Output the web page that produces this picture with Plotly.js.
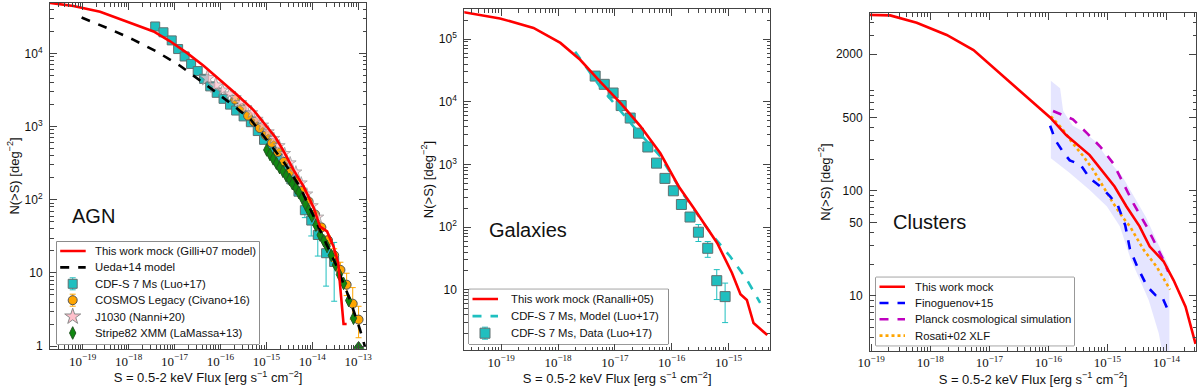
<!DOCTYPE html>
<html>
<head>
<meta charset="utf-8">
<script src="https://cdn.plot.ly/plotly-3.0.1.min.js"></script>
<style>
    html, body { margin: 0; padding: 0; background: #ffffff; }
    #chart { width: 1200px; height: 387px; }
</style>
</head>
<body>
<div id="chart"></div>
<script>
// ---- AGN panel ----
const agnMockFlux  = [1.95e-20, 6.3e-20, 2.4e-19, 6.5e-19, 1.58e-18, 3.5e-18, 7.9e-18, 1.86e-17, 4.3e-17, 9.8e-17, 2.2e-16, 5.2e-16, 1.02e-15, 1.58e-15, 2.3e-15, 3.9e-15, 6.5e-15, 1.07e-14, 1.48e-14, 2.1e-14, 2.9e-14, 3.7e-14, 4.0e-14, 4.5e-14, 4.8e-14, 5.6e-14];
const agnMockCount = [49000, 44700, 37200, 29500, 24500, 20000, 14800, 10200, 6800, 4400, 2800, 1700, 1000, 710, 480, 257, 151, 78, 43, 37, 23, 13.5, 7.2, 3.5, 2.0, 2.0];

const uedaFlux  = [9.5e-20, 2.0e-19, 4.0e-19, 1.26e-18, 4.0e-18, 1.32e-17, 3.3e-17, 8.3e-17, 2.0e-16, 4.5e-16, 1.02e-15, 2.5e-15, 5.4e-15, 1.26e-14, 3.4e-14, 6.6e-14, 1.1e-13, 1.4e-13];
const uedaCount = [31000, 25700, 21400, 15500, 10700, 6800, 4470, 2900, 1900, 1260, 660, 316, 151, 48, 12.3, 4.3, 1.66, 0.98];

const cdfsAgnFlux  = [3.8e-18, 5.75e-18, 8.7e-18, 1.2e-17, 1.66e-17, 2.3e-17, 3.2e-17, 4.4e-17, 6.0e-17, 8.3e-17, 1.17e-16, 1.62e-16, 2.2e-16, 3.2e-16, 4.6e-16, 6.5e-16, 8.9e-16, 1.26e-15, 1.78e-15, 2.5e-15, 3.5e-15, 5.0e-15, 6.9e-15, 9.5e-15, 1.32e-14, 2.0e-14, 3.0e-14];
const cdfsAgnCount = [23400, 19500, 15100, 11500, 9100, 7200, 5750, 4500, 3550, 2900, 2400, 2000, 1660, 1380, 1150, 870, 660, 500, 370, 270, 190, 129, 72, 52, 33, 18.6, 14.1];
const cdfsAgnErrUp   = [0, 0, 0, 0, 0, 0, 0, 0, 0, 0, 0, 0, 0, 0, 0, 0, 0, 0, 0, 0, 0, 12, 15, 10, 10, 9, 12];
const cdfsAgnErrDown = [0, 0, 0, 0, 0, 0, 0, 0, 0, 0, 0, 0, 0, 0, 0, 0, 0, 0, 0, 0, 0, 12, 15, 20, 16, 12, 10];

const cosmosFlux  = [2.1e-16, 2.9e-16, 4.0e-16, 5.4e-16, 7.2e-16, 9.8e-16, 1.32e-15, 1.78e-15, 2.4e-15, 3.2e-15, 4.4e-15, 6.0e-15, 8.3e-15, 1.15e-14, 1.58e-14, 2.2e-14, 3.0e-14, 4.1e-14, 5.6e-14, 7.6e-14, 1.02e-13];
const cosmosCount = [2340, 1780, 1410, 1170, 955, 760, 600, 450, 330, 240, 178, 132, 95, 63, 42, 28, 17.4, 11, 6.9, 3.8, 2.3];
const cosmosErrUp   = [0, 0, 0, 0, 0, 0, 0, 0, 0, 0, 0, 0, 0, 5, 5, 4, 4, 3, 3, 2.5, 1.2];
const cosmosErrDown = [0, 0, 0, 0, 0, 0, 0, 0, 0, 0, 0, 0, 0, 5, 5, 4, 3, 2.5, 2, 1.5, 1.0];

const j1030Flux  = [5.2e-17, 7.9e-17, 1.12e-16, 1.58e-16, 2.1e-16, 2.75e-16, 3.6e-16, 4.8e-16, 6.3e-16, 8.3e-16, 1.1e-15, 1.45e-15, 1.9e-15, 2.5e-15, 3.3e-15, 4.4e-15, 5.75e-15, 7.6e-15, 1.0e-14, 1.32e-14];
const j1030Count = [4600, 3650, 3160, 2800, 2500, 2140, 1820, 1550, 1260, 1050, 850, 690, 550, 430, 320, 240, 170, 120, 83, 58];

const stripeFlux  = [1.02e-15, 1.2e-15, 1.41e-15, 1.66e-15, 1.95e-15, 2.3e-15, 2.7e-15, 3.2e-15, 3.7e-15, 4.4e-15, 5.1e-15, 6.0e-15, 7.1e-15, 8.3e-15, 9.8e-15, 1.2e-14, 1.48e-14, 1.78e-14, 2.1e-14, 2.6e-14, 3.2e-14, 3.9e-14, 4.8e-14, 6.2e-14, 7.9e-14, 1.02e-13];
const stripeCount = [480, 417, 363, 316, 275, 245, 214, 190, 166, 145, 126, 107, 87, 72, 60, 45, 33, 27.5, 23, 17.4, 12.9, 9.5, 7.2, 4.2, 2.4, 1.0];

// ---- Galaxies panel ----
const galMockFlux  = [2.2e-20, 9.5e-20, 3.7e-19, 1.1e-18, 2.45e-18, 5.5e-18, 1.26e-17, 2.8e-17, 6.3e-17, 1.32e-16, 2.45e-16, 3.6e-16, 6.3e-16, 1.15e-15, 1.62e-15, 2.1e-15, 2.75e-15, 4.8e-15];
const galMockCount = [269000, 214000, 151000, 87000, 46800, 20900, 9550, 4100, 1510, 450, 200, 117, 56, 18.6, 8.5, 6.9, 2.95, 1.9];

const galModelFlux  = [2.0e-18, 5.5e-18, 2.1e-17, 6.3e-17, 1.62e-16, 4.8e-16, 1.07e-15, 2.1e-15, 3.6e-15];
const galModelCount = [63000, 17400, 4100, 1350, 330, 81, 34, 14.5, 6.2];

const galDataFlux  = [4.5e-18, 6.5e-18, 9.3e-18, 1.29e-17, 1.86e-17, 2.6e-17, 3.8e-17, 5.4e-17, 7.6e-17, 1.07e-16, 1.48e-16, 2.1e-16, 2.95e-16, 4.3e-16, 6.2e-16, 8.7e-16];
const galDataCount = [25700, 19000, 13800, 8700, 5500, 3160, 1900, 1050, 600, 380, 230, 145, 83, 46, 14, 7.8];
const galDataErrUp   = [0, 0, 0, 0, 0, 0, 0, 0, 0, 0, 0, 0, 27, 13, 7, 5];
const galDataErrDown = [0, 0, 0, 0, 0, 0, 0, 0, 0, 0, 0, 0, 24, 13, 7, 4.8];

// ---- Clusters panel ----
const clMockFlux  = [9.5e-20, 2.1e-19, 5.9e-19, 1.9e-18, 5.4e-18, 1.74e-17, 3.8e-17, 1.07e-16, 2.0e-16, 5.0e-16, 1.32e-15, 2.1e-15, 3.5e-15, 5.2e-15, 8.9e-15, 1.32e-14, 2.1e-14, 3.1e-14];
const clMockCount = [4730, 4680, 3980, 3050, 2190, 1230, 830, 500, 340, 219, 110, 71, 46, 29.5, 21.4, 14.1, 7.9, 3.5];

const finoFlux  = [1.07e-16, 1.32e-16, 1.78e-16, 2.3e-16, 3.5e-16, 5.0e-16, 7.6e-16, 1.1e-15, 1.51e-15, 2.0e-15, 2.4e-15, 3.2e-15, 4.7e-15, 6.5e-15, 8.3e-15, 1.15e-14];
const finoCount = [417, 302, 234, 195, 178, 132, 110, 89, 72, 47, 28, 19, 12.3, 10.2, 10.0, 6.6];

const finoUpperFlux  = [1.1e-16, 1.58e-16, 1.78e-16, 2.6e-16, 4.0e-16, 6.3e-16, 1.12e-15, 1.78e-15, 2.8e-15, 4.5e-15, 7.1e-15, 1.12e-14];
const finoUpperCount = [1120, 950, 575, 417, 363, 295, 186, 138, 89, 56, 32, 19];
const finoLowerFlux  = [1.1e-16, 2.3e-16, 5.0e-16, 9.8e-16, 1.62e-15, 2.5e-15, 3.4e-15, 5.0e-15, 7.4e-15, 8.9e-15, 1.12e-14];
const finoLowerCount = [204, 148, 102, 71, 46, 22, 15, 9.1, 4.4, 2.5, 2.5];

const planckFlux  = [1.2e-16, 1.78e-16, 2.6e-16, 4.5e-16, 7.6e-16, 1.26e-15, 1.86e-15, 2.75e-15, 4.6e-15, 6.8e-15, 8.9e-15, 1.07e-14];
const planckCount = [575, 525, 480, 355, 263, 182, 117, 76, 46, 29.5, 21.9, 17];

const rosatiFlux  = [1.1e-16, 1.78e-16, 2.6e-16, 3.9e-16, 5.75e-16, 8.5e-16, 1.26e-15, 1.86e-15, 2.4e-15, 4.1e-15, 6.8e-15, 1.15e-14];
const rosatiCount = [513, 380, 282, 214, 158, 110, 76, 55, 46, 27.5, 19, 11.5];

// ---- ticks ----
const fluxTickVals = [1e-19, 1e-18, 1e-17, 1e-16, 1e-15, 1e-14, 1e-13];
const fluxTickText = ["10<sup>−19</sup>", "10<sup>−18</sup>", "10<sup>−17</sup>", "10<sup>−16</sup>", "10<sup>−15</sup>", "10<sup>−14</sup>", "10<sup>−13</sup>"];
const agnTickVals = [1, 10, 100, 1000, 10000];
const agnTickText = ["1", "10", "10<sup>2</sup>", "10<sup>3</sup>", "10<sup>4</sup>"];
const galTickVals = [10, 100, 1000, 10000, 100000];
const galTickText = ["10", "10<sup>2</sup>", "10<sup>3</sup>", "10<sup>4</sup>", "10<sup>5</sup>"];
const clTickVals = [10, 50, 100, 500, 2000];
const clTickText = ["10", "50", "100", "500", "2000"];

const SANS = "Liberation Sans, Arial, sans-serif";
const SERIF = "Liberation Serif, DejaVu Serif, serif";
const AXIS_COLOR = "#444";
const CYAN = "#1fbfbf";

// legend boxes, in page pixels (matplotlib-like tight rows)
const LEGEND_BOXES = [
    { left: 56.7, top: 241.7, width: 202.6, height: 102.3, firstRow: 9.3, rowStep: 16.4, textX: 36.5 },
    { left: 469, top: 289.3, width: 199.3, height: 54.7, firstRow: 9.7, rowStep: 17.1, textX: 40 },
    { left: 876, top: 277.3, width: 198, height: 68.4, firstRow: 9.4, rowStep: 16.3, textX: 37 }
];
const PAGE_W = 1200;
const PAGE_H = 387;

document.addEventListener("DOMContentLoaded", () => {
    renderChart();
});


function minorTicks(fromExp, toExp) {
    const ticks = [];
    for (let e = fromExp; e <= toExp; e++) {
        for (let m = 2; m <= 9; m++) {
            ticks.push(m * Math.pow(10, e));
        }
    }
    return ticks;
}


function fluxAxis(domain, range, anchor) {
    return {
        type: "log",
        domain: domain,
        range: range,
        anchor: anchor,
        tickmode: "array",
        tickvals: fluxTickVals,
        ticktext: fluxTickText,
        ticks: "inside",
        ticklen: 7,
        tickcolor: AXIS_COLOR,
        minor: {
            ticks: "inside",
            ticklen: 3.5,
            tickcolor: AXIS_COLOR,
            tickmode: "array",
            tickvals: minorTicks(-21, -13),
            showgrid: false
        },
        mirror: "allticks",
        showline: true,
        linecolor: AXIS_COLOR,
        linewidth: 1,
        showgrid: false,
        zeroline: false,
        automargin: false,
        tickfont: { family: SERIF, size: 13, color: "#111" },
        title: {
            text: "S = 0.5-2 keV Flux [erg s<sup>−1</sup> cm<sup>−2</sup>]",
            font: { family: SANS, size: 13, color: "#111" },
            standoff: 2
        }
    };
}


function countAxis(domain, range, anchor, tickVals, tickText, minorRange) {
    return {
        type: "log",
        domain: domain,
        range: range,
        anchor: anchor,
        tickmode: "array",
        tickvals: tickVals,
        ticktext: tickText,
        ticks: "inside",
        ticklen: 7,
        tickcolor: AXIS_COLOR,
        ticklabelstandoff: 4,
        minor: {
            ticks: "inside",
            ticklen: 3.5,
            tickcolor: AXIS_COLOR,
            tickmode: "array",
            tickvals: minorTicks(minorRange[0], minorRange[1]),
            showgrid: false
        },
        mirror: "allticks",
        showline: true,
        linecolor: AXIS_COLOR,
        linewidth: 1,
        showgrid: false,
        zeroline: false,
        automargin: false,
        tickfont: { family: SANS, size: 12, color: "#111" },
        title: {
            text: "N(>S) [deg<sup>−2</sup>]",
            font: { family: SANS, size: 13, color: "#111" },
            standoff: 2
        }
    };
}


function lineTrace(x, y, name, color, dash, axes) {
    return {
        x: x,
        y: y,
        name: name,
        type: "scatter",
        mode: "lines",
        line: { color: color, width: 2.6, dash: dash },
        xaxis: axes[0],
        yaxis: axes[1],
        showlegend: false
    };
}


function pointTrace(x, y, errUp, errDown, name, marker, axes) {
    const trace = {
        x: x,
        y: y,
        name: name,
        type: "scatter",
        mode: "markers",
        marker: marker,
        xaxis: axes[0],
        yaxis: axes[1],
        showlegend: false
    };
    if (errUp) {
        trace.error_y = {
            type: "data",
            symmetric: false,
            array: errUp,
            arrayminus: errDown,
            color: marker.color,
            thickness: 1,
            width: 3
        };
    }
    return trace;
}


function buildPanels() {
    const a1 = ["x", "y"];
    const a2 = ["x2", "y2"];
    const a3 = ["x3", "y3"];

    const cdfsAgn = pointTrace(cdfsAgnFlux, cdfsAgnCount, cdfsAgnErrUp, cdfsAgnErrDown, "CDF-S 7 Ms (Luo+17)",
        { symbol: "square", size: 9, color: CYAN, line: { color: "#607070", width: 1 } }, a1);
    const cosmos = pointTrace(cosmosFlux, cosmosCount, cosmosErrUp, cosmosErrDown, "COSMOS Legacy (Civano+16)",
        { symbol: "circle", size: 9, color: "#ffa500", line: { color: "#555", width: 1 } }, a1);
    const j1030 = pointTrace(j1030Flux, j1030Count, null, null, "J1030 (Nanni+20)",
        { symbol: "star", size: j1030Flux.map((v, i) => i < 2 ? 12 : 9), color: "#ffc0cb", line: { color: "#888", width: 1 } }, a1);
    const stripe = pointTrace(stripeFlux, stripeCount, null, null, "Stripe82 XMM (LaMassa+13)",
        { symbol: stripeFlux.map((v, i) => i === stripeFlux.length - 1 ? "triangle-up" : "diamond-tall"), size: 9, color: "#118811", line: { color: "#225522", width: 1 } }, a1);
    const ueda = lineTrace(uedaFlux, uedaCount, "Ueda+14 model", "#000000", "dash", a1);
    const agnMock = lineTrace(agnMockFlux, agnMockCount, "This work mock (Gilli+07 model)", "#ff0000", "solid", a1);

    const galData = pointTrace(galDataFlux, galDataCount, galDataErrUp, galDataErrDown, "CDF-S 7 Ms, Data (Luo+17)",
        { symbol: "square", size: 10, color: CYAN, line: { color: "#607070", width: 1 } }, a2);
    const galModel = lineTrace(galModelFlux, galModelCount, "CDF-S 7 Ms, Model (Luo+17)", CYAN, "dash", a2);
    const galMock = lineTrace(galMockFlux, galMockCount, "This work mock (Ranalli+05)", "#ff0000", "solid", a2);

    const band = {
        x: finoUpperFlux.concat(finoLowerFlux.slice().reverse()),
        y: finoUpperCount.concat(finoLowerCount.slice().reverse()),
        type: "scatter",
        mode: "lines",
        fill: "toself",
        fillcolor: "rgba(0, 0, 255, 0.1)",
        line: { width: 0 },
        hoverinfo: "skip",
        showlegend: false,
        xaxis: "x3",
        yaxis: "y3"
    };
    const rosati = lineTrace(rosatiFlux, rosatiCount, "Rosati+02 XLF", "#ffa500", "dot", a3);
    const fino = lineTrace(finoFlux, finoCount, "Finoguenov+15", "#0000ff", "dash", a3);
    const planck = lineTrace(planckFlux, planckCount, "Planck cosmological simulation", "#bf00bf", "dash", a3);
    const clMock = lineTrace(clMockFlux, clMockCount, "This work mock", "#ff0000", "solid", a3);

    // draw order: data under the model lines; legend order as in the paper
    return [
        { traces: [cdfsAgn, cosmos, j1030, stripe, ueda, agnMock], legend: [agnMock, ueda, cdfsAgn, cosmos, j1030, stripe] },
        { traces: [galData, galModel, galMock], legend: [galMock, galModel, galData] },
        { traces: [band, rosati, fino, planck, clMock], legend: [clMock, fino, planck, rosati] }
    ];
}


// Matplotlib-style legend: Plotly's own legend rows are too tall for these boxes,
// so each box gets a hidden pixel-scaled axis pair with key marks and texts.
function buildLegend(entries, box, index) {
    const n = index + 4;
    const xa = "x" + n;
    const ya = "y" + n;

    const axes = {};
    axes["xaxis" + n] = {
        domain: [box.left / PAGE_W, (box.left + box.width) / PAGE_W],
        range: [0, box.width],
        anchor: ya,
        visible: false,
        fixedrange: true
    };
    axes["yaxis" + n] = {
        domain: [(PAGE_H - box.top - box.height) / PAGE_H, (PAGE_H - box.top) / PAGE_H],
        range: [box.height, 0],
        anchor: xa,
        visible: false,
        fixedrange: true
    };

    const shape = {
        type: "rect",
        xref: xa + " domain",
        yref: ya + " domain",
        x0: 0, x1: 1, y0: 0, y1: 1,
        line: { color: "#333", width: 1 },
        fillcolor: "#ffffff",
        layer: "below"
    };

    const keys = [];
    const texts = [];
    entries.forEach((trace, i) => {
        const rowY = box.firstRow + i * box.rowStep;
        if (trace.mode === "lines") {
            keys.push({
                x: [3.5, 29], y: [rowY, rowY],
                type: "scatter", mode: "lines",
                line: trace.line,
                xaxis: xa, yaxis: ya,
                showlegend: false, hoverinfo: "skip"
            });
        } else {
            const m = trace.marker;
            const key = {
                x: [16], y: [rowY],
                type: "scatter", mode: "markers",
                marker: {
                    symbol: Array.isArray(m.symbol) ? m.symbol[0] : m.symbol,
                    size: Array.isArray(m.size) ? m.size[0] : m.size,
                    color: m.color,
                    line: m.line
                },
                xaxis: xa, yaxis: ya,
                showlegend: false, hoverinfo: "skip"
            };
            if (trace.error_y) {
                key.error_y = { type: "constant", value: 6, color: m.color, thickness: 1, width: 3 };
            }
            keys.push(key);
        }
        texts.push({
            text: trace.name,
            x: box.textX,
            y: rowY,
            xref: xa,
            yref: ya,
            xanchor: "left",
            yanchor: "middle",
            showarrow: false,
            font: { family: SANS, size: 11.3, color: "#111" }
        });
    });

    return { axes: axes, shape: shape, keys: keys, texts: texts };
}


function panelLabel(text, x, y) {
    return {
        text: text,
        x: x,
        y: y,
        xref: "paper",
        yref: "paper",
        xanchor: "left",
        yanchor: "middle",
        showarrow: false,
        font: { family: SANS, size: 20, color: "#111" }
    };
}


function renderChart() {
    const panels = buildPanels();

    const layout = {
        width: PAGE_W,
        height: PAGE_H,
        margin: { l: 0, r: 0, t: 0, b: 0 },
        paper_bgcolor: "#ffffff",
        plot_bgcolor: "#ffffff",
        font: { family: SANS, color: "#111" },
        showlegend: false,

        xaxis: fluxAxis([0.0417, 0.305], [-19.71, -12.83], "y"),
        yaxis: countAxis([0.0982, 0.9922], [-0.04, 4.69], "x", agnTickVals, agnTickText, [-1, 4]),

        xaxis2: fluxAxis([0.3869, 0.6417], [-19.65, -14.27], "y2"),
        yaxis2: countAxis([0.0956, 0.9767], [0.04, 5.48], "x2", galTickVals, galTickText, [0, 5]),

        xaxis3: fluxAxis([0.725, 0.9967], [-19.02, -13.5], "y3"),
        yaxis3: countAxis([0.0938, 0.9656], [0.479, 3.69], "x3", clTickVals, clTickText, [0, 3]),

        shapes: [],
        annotations: [
            panelLabel("AGN", 0.0583, 0.442),
            panelLabel("Galaxies", 0.4058, 0.406),
            panelLabel("Clusters", 0.7425, 0.426)
        ]
    };

    let traces = [];
    panels.forEach(panel => {
        traces = traces.concat(panel.traces);
    });

    panels.forEach((panel, i) => {
        const legend = buildLegend(panel.legend, LEGEND_BOXES[i], i);
        Object.assign(layout, legend.axes);
        layout.shapes.push(legend.shape);
        layout.annotations = layout.annotations.concat(legend.texts);
        traces = traces.concat(legend.keys);
    });

    Plotly.newPlot(
        "chart",
        traces,
        layout,
        {
            staticPlot: true,
            displayModeBar: false
        }
    );
}
</script>
</body>
</html>
